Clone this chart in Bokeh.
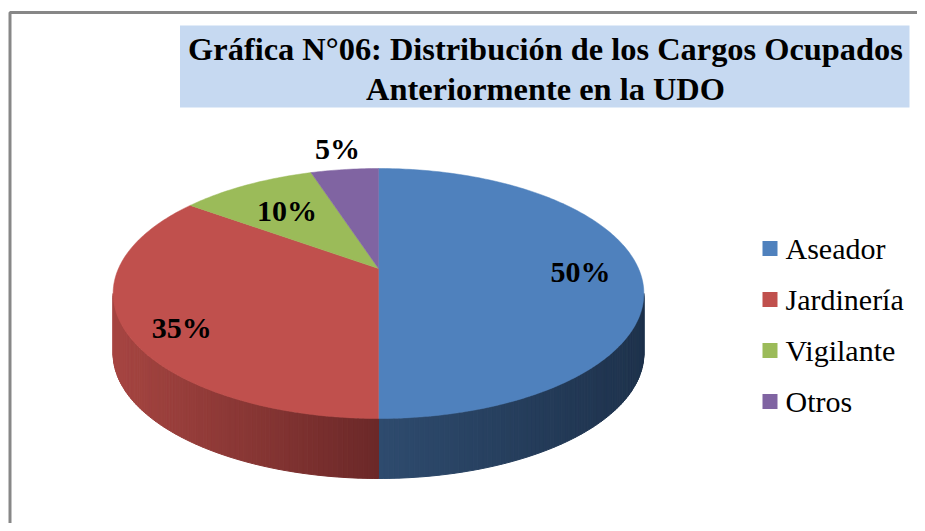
import numpy as np
from bokeh.plotting import figure
from bokeh.models import Range1d
from bokeh.core.properties import value
from bokeh.embed import file_html
from bokeh.resources import INLINE

# ---- data ----
categories = ["Aseador", "Jardinería", "Vigilante", "Otros"]
percent = [50, 35, 10, 5]
pct_labels = ["50%", "35%", "10%", "5%"]
title_lines = ["Gráfica N°06: Distribución de los Cargos Ocupados",
               "Anteriormente en la UDO"]

# ---- style ----
top_colors = ["#4F81BD", "#C0504D", "#9BBB59", "#8064A2"]
side_shades = [("#2E4B6E", "#1E324C"), ("#A64541", "#6B2828"),
               ("#7A9444", "#5E7332"), ("#62497F", "#4B3862")]
label_radius = [0.773, 0.822, 0.663, 1.263]
label_shift_deg = [2.0, -6.0, 0.0, 0.0]
SERIF = "Liberation Serif"

# projection of the 3D pie (screen pixels)
CX, CY = 378.0, 268.0
A, B, K = 260.0, 120.0, 0.2
DEPTH = 60.0


def proj(theta, r=1.0, drop=0.0):
    u = r * np.sin(theta)
    v = r * np.cos(theta)
    d = 1.0 + K * v
    return CX + A * u / d, CY - B * v / d + drop


def hex2rgb(h):
    h = h.lstrip("#")
    return np.array([int(h[i:i + 2], 16) for i in (0, 2, 4)], dtype=float)


def mix(c1, c2, t):
    c = hex2rgb(c1) * (1 - t) + hex2rgb(c2) * t
    return "#%02x%02x%02x" % tuple(int(round(x)) for x in c)


total = float(sum(percent))
fr = np.array(percent) / total
ends = np.cumsum(fr) * 2 * np.pi
starts = np.concatenate([[0.0], ends[:-1]])

p = figure(width=917, height=523, output_backend="svg", toolbar_location=None,
           x_range=Range1d(0, 917), y_range=Range1d(523, 0),
           x_axis_type=None, y_axis_type=None, min_border=0)
p.grid.visible = False
p.outline_line_color = None
p.background_fill_color = "white"
p.border_fill_color = "white"

# chart frame (top and left edges visible)
p.line(x=[9.5, 9.5, 940], y=[540, 12, 12], line_color="#878787", line_width=3)

# title box
p.quad(left=179.5, right=909, top=25, bottom=107, fill_color="#C6D9F1", line_color=None)
p.text(x=[545, 545], y=[48, 88], text=title_lines, text_align="center",
       text_baseline="middle", text_font=value(SERIF), text_font_style="bold",
       text_font_size="32.4px", text_color="black")

# visible part of the side wall
th_a = np.arccos(-K)
th_b = 2 * np.pi - np.arccos(-K)

sx, sy, sc = [], [], []
for i in range(len(percent)):
    a0 = max(starts[i], th_a)
    a1 = min(ends[i], th_b)
    if a1 <= a0:
        continue
    n = max(4, int((a1 - a0) / (2 * np.pi) * 400))
    th = np.linspace(a0, a1, n + 1)
    xt, yt = proj(th)
    xb, yb = proj(th, drop=DEPTH)
    xmin, xmax = min(xt), max(xt)
    for j in range(n):
        sx.append([xt[j], xt[j + 1], xb[j + 1], xb[j]])
        sy.append([yt[j], yt[j + 1], yb[j + 1], yb[j]])
        xm = 0.5 * (xt[j] + xt[j + 1])
        t = (xm - xmin) / (xmax - xmin) if xmax > xmin else 0
        sc.append(mix(side_shades[i][0], side_shades[i][1], t))

p.patches(xs=sx, ys=sy, fill_color=sc, line_color=sc, line_width=1)

# top faces
txs, tys = [], []
for i in range(len(percent)):
    th = np.linspace(starts[i], ends[i], max(8, int(fr[i] * 400)))
    x, y = proj(th)
    txs.append([CX] + list(x))
    tys.append([CY] + list(y))
p.patches(xs=txs, ys=tys, fill_color=top_colors, line_color=top_colors, line_width=0.5)

# percentage labels
mids = (starts + ends) / 2
lx, ly = [], []
for i in range(len(percent)):
    x, y = proj(mids[i] + np.radians(label_shift_deg[i]), r=label_radius[i])
    lx.append(x)
    ly.append(y)
p.text(x=lx, y=ly, text=pct_labels, text_align="center", text_baseline="middle",
       text_font=value(SERIF), text_font_style="bold", text_font_size="30px",
       text_color="black")

# legend
leg_y = [248 + 51 * i for i in range(len(categories))]
p.scatter(x=[769.5] * len(categories), y=leg_y, marker="square", size=15,
          fill_color=top_colors, line_color=None)
p.text(x=[785] * len(categories), y=leg_y, text=categories, text_align="left",
       text_baseline="middle", text_font=value(SERIF), text_font_size="30px",
       text_color="black")

open("out.html", "w").write(file_html(p, INLINE))
